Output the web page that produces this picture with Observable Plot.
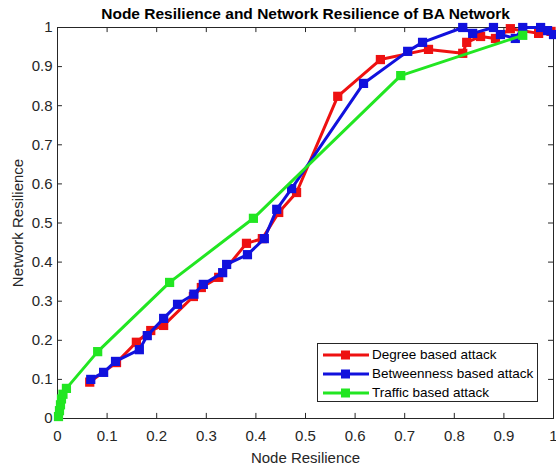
<!DOCTYPE html>
<html>
<head>
<meta charset="utf-8">
<script src="https://cdn.jsdelivr.net/npm/d3@7"></script>
<script src="https://cdn.jsdelivr.net/npm/@observablehq/plot@0.6"></script>
<style>
  html, body { margin: 0; padding: 0; background: #fff; }
  #wrap { position: relative; width: 556px; height: 468px; font-family: "Liberation Sans", Arial, sans-serif; }
  #legend { position: absolute; left: 317px; top: 343px; width: 219px; height: 57px; background: #fff; border: 1px solid #262626; font-size: 13.5px; color: #000; }
  .row { position: absolute; left: 0; height: 19px; display: flex; align-items: center; }
  .row svg { display: block; }
  .row span { margin-left: 2px; }
</style>
</head>
<body>
<div id="wrap"></div>
<script>
const title = "Node Resilience and Network Resilience of BA Network";
const xLabel = "Node Resilience";
const yLabel = "Network Resilience";
const seriesNames = ["Degree based attack", "Betweenness based attack", "Traffic based attack"];
const seriesColors = ["#ee1111", "#1111dd", "#22e622"];
const xTicks = [0, 0.1, 0.2, 0.3, 0.4, 0.5, 0.6, 0.7, 0.8, 0.9, 1];
const yTicks = [0, 0.1, 0.2, 0.3, 0.4, 0.5, 0.6, 0.7, 0.8, 0.9, 1];

const degreeX = [0.065, 0.119, 0.159, 0.188, 0.214, 0.274, 0.29, 0.325, 0.381, 0.413, 0.446, 0.482, 0.565, 0.651, 0.748, 0.817, 0.825, 0.853, 0.883, 0.913, 0.97, 0.995];
const degreeY = [0.093, 0.143, 0.195, 0.225, 0.238, 0.312, 0.335, 0.361, 0.448, 0.46, 0.527, 0.578, 0.824, 0.918, 0.944, 0.934, 0.962, 0.977, 0.972, 0.997, 0.985, 0.99];

const betweenX = [0.067, 0.093, 0.117, 0.165, 0.181, 0.214, 0.242, 0.275, 0.294, 0.333, 0.341, 0.383, 0.417, 0.442, 0.472, 0.617, 0.706, 0.736, 0.817, 0.837, 0.879, 0.893, 0.923, 0.938, 0.974, 0.988, 1.0];
const betweenY = [0.1, 0.118, 0.146, 0.176, 0.212, 0.256, 0.292, 0.318, 0.343, 0.373, 0.394, 0.419, 0.46, 0.535, 0.588, 0.857, 0.939, 0.962, 1.0, 0.985, 1.0, 0.982, 0.972, 1.0, 1.0, 0.992, 0.982];

const trafficX = [0.002, 0.004, 0.006, 0.008, 0.011, 0.018, 0.081, 0.226, 0.395, 0.692, 0.938];
const trafficY = [0.005, 0.02, 0.035, 0.05, 0.062, 0.077, 0.171, 0.348, 0.512, 0.877, 0.98];

const seriesX = [degreeX, betweenX, trafficX];
const seriesY = [degreeY, betweenY, trafficY];
const data = [];
seriesNames.forEach((name, i) => {
  seriesX[i].forEach((x, j) => data.push({series: name, x, y: seriesY[i][j]}));
});

const ink = "#262626";
const chart = Plot.plot({
  width: 556,
  height: 468,
  marginLeft: 57,
  marginRight: 3,
  marginTop: 27,
  marginBottom: 50,
  style: {fontFamily: "Liberation Sans, Arial, sans-serif", fontSize: "15px", color: ink, background: "#fff"},
  x: {domain: [0, 1], ticks: xTicks},
  y: {domain: [0, 1], ticks: yTicks},
  color: {domain: seriesNames, range: seriesColors},
  marks: [
    Plot.frame({stroke: ink}),
    Plot.ruleX(xTicks, {x: d => d, y1: 0, y2: 0.013, stroke: ink}),
    Plot.ruleX(xTicks, {x: d => d, y1: 1, y2: 0.987, stroke: ink}),
    Plot.ruleY(yTicks, {y: d => d, x1: 0, x2: 0.01, stroke: ink}),
    Plot.ruleY(yTicks, {y: d => d, x1: 1, x2: 0.99, stroke: ink}),
    Plot.axisX({ticks: xTicks, tickSize: 0, tickPadding: 12, tickFormat: d => String(d), fontSize: 15, label: xLabel, labelAnchor: "center", labelArrow: "none", labelOffset: 44}),
    Plot.axisY({ticks: yTicks, tickSize: 0, tickPadding: 5, tickFormat: d => String(d), fontSize: 15, label: yLabel, labelAnchor: "center", labelArrow: "none", labelOffset: 45}),
    ...seriesNames.map((name, i) => [
      Plot.line(data.filter(d => d.series === name), {x: "x", y: "y", stroke: seriesColors[i], strokeWidth: 3}),
      Plot.dot(data.filter(d => d.series === name), {x: "x", y: "y", symbol: "square", r: 5.2, fill: seriesColors[i], stroke: "none"})
    ]).flat(),
    Plot.text([title], {frameAnchor: "top", lineAnchor: "middle", dy: -13, fontWeight: "bold", fontSize: 15.5, fill: "#000", text: d => d})
  ]
});
const wrap = document.getElementById("wrap");
wrap.appendChild(chart);

const legend = document.createElement("div");
legend.id = "legend";
seriesNames.forEach((name, i) => {
  const row = document.createElement("div");
  row.className = "row";
  row.style.top = (1 + i * 19) + "px";
  row.style.left = "4px";
  const c = seriesColors[i];
  row.innerHTML = `<svg width="48" height="12"><line x1="1" y1="6" x2="47" y2="6" stroke="${c}" stroke-width="3"/><rect x="19" y="1.5" width="9" height="9" fill="${c}"/></svg><span>${name}</span>`;
  legend.appendChild(row);
});
wrap.appendChild(legend);
</script>
</body>
</html>
